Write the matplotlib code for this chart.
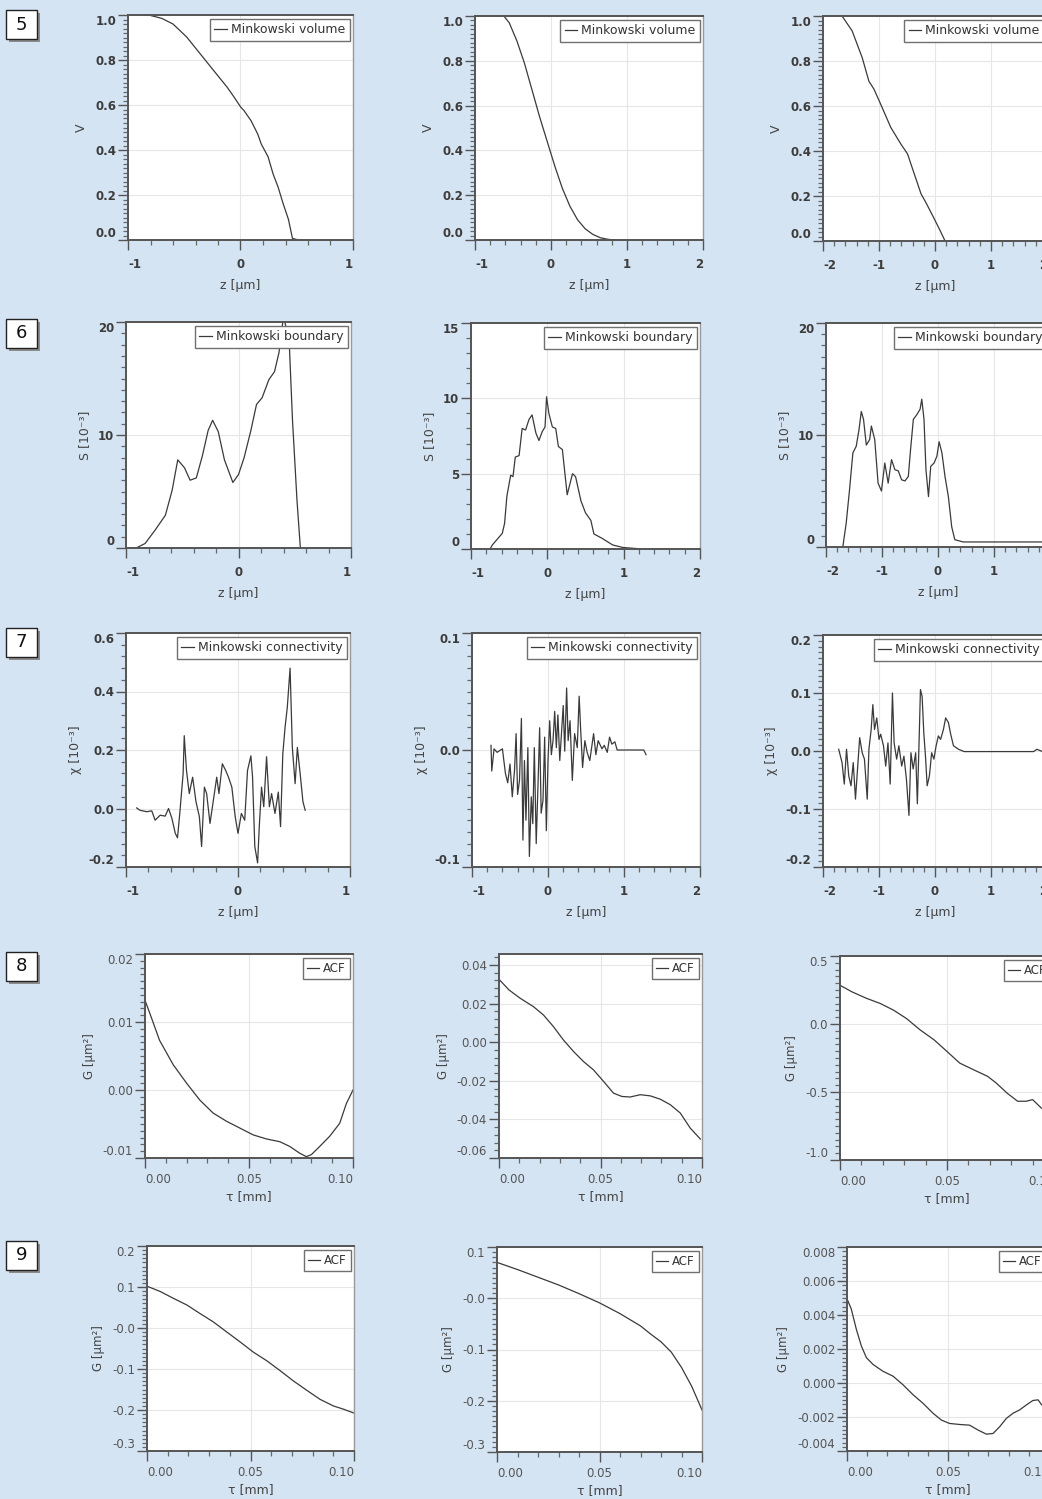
import matplotlib
matplotlib.use("Agg")
import matplotlib.pyplot as plt
from matplotlib.patches import Rectangle
from matplotlib.ticker import MultipleLocator

W, H = 1042, 1499
BG = "#d5e4f3"
INK = "#3a3a3a"

plt.rcParams["font.family"] = ["DejaVu Sans"]
plt.rcParams["axes.unicode_minus"] = False

# ---------------- row 5: Minkowski volume ----------------
vol_a_z = [-0.83, -0.80, -0.70, -0.60, -0.48, -0.33, -0.24, -0.12, -0.057, 0.003, 0.03,
           0.094, 0.154, 0.184, 0.245, 0.29, 0.335, 0.38, 0.426, 0.462, 0.517]
vol_a_v = [1.0, 0.998, 0.985, 0.96, 0.903, 0.81, 0.754, 0.68, 0.635, 0.59, 0.576,
           0.53, 0.47, 0.427, 0.37, 0.293, 0.234, 0.16, 0.092, 0.007, 0.0]
vol_b_z = [-0.62, -0.55, -0.45, -0.35, -0.25, -0.15, -0.05, 0.05, 0.15, 0.25, 0.35,
           0.45, 0.55, 0.65, 0.75, 0.85]
vol_b_v = [1.0, 0.97, 0.89, 0.79, 0.67, 0.55, 0.44, 0.33, 0.23, 0.15, 0.09,
           0.05, 0.025, 0.01, 0.003, 0.0]
vol_c_z = [-1.66, -1.48, -1.30, -1.18, -1.09, -0.97, -0.79, -0.61, -0.49, -0.37, -0.25,
           -0.15, 0.0, 0.09, 0.18, 2.0]
vol_c_v = [1.0, 0.934, 0.815, 0.71, 0.675, 0.608, 0.505, 0.431, 0.387, 0.298, 0.21,
           0.165, 0.092, 0.047, 0.0, 0.0]

# ---------------- row 6: Minkowski boundary [1e-3] ----------------
bnd_a_z = [-0.91, -0.83, -0.74, -0.65, -0.59, -0.54, -0.48, -0.43, -0.375, -0.32, -0.27,
           -0.23, -0.18, -0.125, -0.05, 0.0, 0.05, 0.11, 0.16, 0.21, 0.27, 0.32, 0.36,
           0.40, 0.45, 0.48, 0.52, 0.55]
bnd_a_s = [0.0, 0.4, 1.6, 2.9, 5.1, 7.8, 7.1, 6.0, 6.2, 8.2, 10.4,
           11.3, 10.3, 7.8, 5.8, 6.5, 8.0, 10.4, 12.7, 13.3, 14.9, 15.6, 17.3,
           20.5, 18.4, 11.3, 4.2, 0.0]
bnd_b_z = [-0.75, -0.72, -0.59, -0.56, -0.53, -0.48, -0.45, -0.42, -0.37, -0.33, -0.285,
           -0.24, -0.20, -0.15, -0.11, -0.066, -0.03, -0.01, 0.02, 0.066, 0.11, 0.145,
           0.197, 0.26, 0.33, 0.37, 0.44, 0.50, 0.57, 0.61, 0.72, 0.855, 0.99, 1.25]
bnd_b_s = [0.0, 0.27, 1.04, 1.7, 3.5, 4.9, 4.8, 6.1, 6.2, 8.0, 7.9,
           8.6, 8.9, 7.7, 7.2, 7.8, 8.1, 10.1, 9.0, 8.1, 8.0, 6.8,
           6.6, 3.6, 5.0, 4.8, 3.2, 2.4, 1.9, 1.0, 0.7, 0.27, 0.1, 0.0]
bnd_c_z = [-1.70, -1.64, -1.58, -1.52, -1.46, -1.41, -1.37, -1.33, -1.28, -1.22, -1.19,
           -1.13, -1.07, -1.01, -0.95, -0.89, -0.83, -0.77, -0.71, -0.65, -0.59, -0.53,
           -0.49, -0.44, -0.38, -0.32, -0.29, -0.25, -0.215, -0.17, -0.13, -0.07, -0.02,
           0.02, 0.07, 0.125, 0.185, 0.245, 0.30, 0.45, 2.0]
bnd_c_s = [0.0, 2.1, 5.1, 8.4, 9.0, 10.5, 12.1, 11.4, 9.1, 9.6, 10.8,
           9.6, 5.7, 5.0, 7.5, 5.7, 7.8, 6.9, 6.8, 6.0, 5.9, 6.3,
           8.7, 11.4, 11.8, 12.3, 13.2, 11.4, 6.9, 4.5, 7.2, 7.5, 8.1,
           9.4, 8.4, 6.3, 4.5, 1.8, 0.65, 0.45, 0.45]

# ---------------- row 7: Minkowski connectivity [1e-3] ----------------
con_a_z = [-0.905, -0.875, -0.815, -0.77, -0.74, -0.695, -0.65, -0.62, -0.59, -0.56, -0.54,
           -0.52, -0.49, -0.48, -0.46, -0.435, -0.405, -0.375, -0.345, -0.325, -0.30, -0.28,
           -0.25, -0.22, -0.19, -0.17, -0.14, -0.11, -0.085, -0.055, -0.025, 0.0, 0.03,
           0.06, 0.085, 0.115, 0.13, 0.15, 0.175, 0.19, 0.21, 0.23, 0.255, 0.28, 0.30,
           0.33, 0.36, 0.38, 0.40, 0.42, 0.44, 0.465, 0.485, 0.51, 0.53, 0.555, 0.58, 0.60]
con_a_x = [0.002, -0.006, -0.011, -0.008, -0.04, -0.023, -0.026, 0.0, -0.034, -0.085, -0.10,
           -0.017, 0.119, 0.249, 0.13, 0.051, 0.107, 0.023, -0.028, -0.13, 0.073, 0.051,
           -0.051, 0.028, 0.107, 0.051, 0.153, 0.13, 0.107, 0.073, -0.028, -0.085, -0.017,
           -0.04, 0.13, 0.18, 0.107, -0.13, -0.186, -0.062, 0.073, 0.006, 0.177, 0.006, 0.051,
           -0.017, 0.056, -0.062, 0.186, 0.277, 0.345, 0.48, 0.209, 0.085, 0.209, 0.119, 0.023, -0.006]
con_b_z = [-0.75, -0.74, -0.71, -0.67, -0.60, -0.56, -0.53, -0.50, -0.47, -0.44, -0.42,
           -0.40, -0.375, -0.35, -0.33, -0.31, -0.29, -0.265, -0.245, -0.22, -0.20, -0.18,
           -0.155, -0.13, -0.11, -0.09, -0.066, -0.044, -0.022, 0.0, 0.022, 0.044, 0.066,
           0.088, 0.11, 0.13, 0.155, 0.18, 0.20, 0.22, 0.245, 0.265, 0.29, 0.32, 0.35,
           0.385, 0.41, 0.43, 0.455, 0.485, 0.515, 0.55, 0.60, 0.63, 0.66, 0.71, 0.74,
           0.78, 0.81, 0.84, 0.88, 0.91, 1.26, 1.29]
con_b_x = [0.004, -0.018, 0.001, -0.002, 0.001, -0.020, -0.028, -0.012, -0.040, -0.017, 0.014,
           -0.038, -0.026, 0.027, -0.077, -0.009, -0.060, 0.002, -0.091, -0.040, -0.063, 0.002,
           -0.080, -0.026, 0.019, -0.054, -0.043, 0.011, -0.069, -0.009, 0.025, -0.004, 0.008,
           0.033, 0.002, 0.030, -0.009, 0.017, 0.038, -0.001, 0.053, 0.008, 0.025, -0.026, 0.014,
           0.002, 0.046, 0.017, -0.015, 0.008, -0.002, -0.009, 0.014, -0.004, 0.008, 0.001, 0.004,
           -0.002, 0.011, 0.005, 0.007, 0.0, 0.0, -0.004]
con_c_z = [-1.72, -1.66, -1.62, -1.58, -1.54, -1.50, -1.46, -1.42, -1.38, -1.345, -1.30,
           -1.26, -1.21, -1.18, -1.14, -1.11, -1.08, -1.04, -1.00, -0.97, -0.92, -0.88,
           -0.84, -0.80, -0.76, -0.73, -0.685, -0.645, -0.595, -0.555, -0.51, -0.465, -0.43,
           -0.39, -0.345, -0.315, -0.285, -0.26, -0.23, -0.20, -0.17, -0.14, -0.10, -0.06,
           -0.02, 0.02, 0.06, 0.10, 0.15, 0.19, 0.24, 0.28, 0.33, 0.42, 0.52, 0.80, 1.76,
           1.82, 1.92, 2.0]
con_c_x = [0.003, -0.02, -0.057, 0.003, -0.043, -0.06, -0.02, -0.083, -0.026, 0.023, -0.003,
           -0.014, -0.083, 0.003, 0.037, 0.08, 0.037, 0.057, 0.02, 0.029, 0.009, -0.026,
           0.014, -0.057, 0.1, 0.014, -0.014, 0.009, -0.026, -0.009, -0.049, -0.111, -0.003,
           -0.031, -0.003, -0.091, 0.014, 0.106, 0.094, 0.031, -0.009, -0.06, -0.043, -0.003,
           -0.014, 0.009, 0.026, 0.02, 0.037, 0.057, 0.049, 0.029, 0.009, 0.003, -0.001, -0.001, -0.001,
           0.003, -0.001, -0.001]

# ---------------- row 8: ACF ----------------
acf8_a_t = [0.0, 0.003, 0.007, 0.0136, 0.020, 0.0264, 0.0328, 0.0392, 0.0456, 0.052, 0.0584,
            0.0648, 0.0696, 0.0744, 0.0776, 0.080, 0.084, 0.0888, 0.0936, 0.0968, 0.100]
acf8_a_g = [0.0132, 0.0107, 0.0073, 0.0037, 0.001, -0.0015, -0.0034, -0.0046, -0.0056, -0.0066, -0.0072,
            -0.0076, -0.0083, -0.0093, -0.0098, -0.0095, -0.0083, -0.0068, -0.0049, -0.002, 0.0]
acf8_b_t = [0.0, 0.0049, 0.0104, 0.017, 0.0219, 0.0268, 0.0317, 0.0367, 0.0416, 0.0465, 0.0515,
            0.0564, 0.0605, 0.0646, 0.0696, 0.0745, 0.0794, 0.0844, 0.0893, 0.0942, 0.0992]
acf8_b_g = [0.0326, 0.0271, 0.0228, 0.0184, 0.0141, 0.0081, 0.0012, -0.0048, -0.0100, -0.0143, -0.0203,
            -0.0264, -0.0281, -0.0284, -0.0272, -0.0278, -0.0295, -0.0324, -0.0367, -0.0445, -0.0502]
acf8_c_t = [0.0, 0.0055, 0.0125, 0.0188, 0.025, 0.031, 0.0375, 0.044, 0.050, 0.056, 0.0625,
            0.069, 0.073, 0.078, 0.083, 0.087, 0.090, 0.094, 0.1]
acf8_c_g = [0.285, 0.237, 0.188, 0.151, 0.102, 0.041, -0.044, -0.117, -0.202, -0.288, -0.337,
            -0.385, -0.434, -0.507, -0.568, -0.568, -0.556, -0.617, -0.66]

# ---------------- row 9: ACF ----------------
acf9_a_t = [0.0, 0.0064, 0.0129, 0.0193, 0.0257, 0.032, 0.0386, 0.045, 0.0514, 0.0579, 0.0643,
            0.0707, 0.0772, 0.0836, 0.090, 0.0949, 0.0997]
acf9_a_g = [0.102, 0.089, 0.072, 0.056, 0.035, 0.015, -0.010, -0.034, -0.059, -0.080, -0.104,
            -0.129, -0.152, -0.174, -0.190, -0.198, -0.207]
acf9_b_t = [0.0, 0.010, 0.020, 0.030, 0.040, 0.050, 0.060, 0.070, 0.075, 0.080, 0.085,
            0.090, 0.095, 0.100]
acf9_b_g = [0.070, 0.056, 0.041, 0.026, 0.009, -0.009, -0.030, -0.054, -0.070, -0.085, -0.105,
            -0.135, -0.172, -0.218]
acf9_c_t = [0.0, 0.0021, 0.0046, 0.0071, 0.0096, 0.0129, 0.0178, 0.0228, 0.0277, 0.0327, 0.0376,
            0.0426, 0.0467, 0.0508, 0.0558, 0.0607, 0.0649, 0.069, 0.0723, 0.0756, 0.0789,
            0.0822, 0.0855, 0.0888, 0.092, 0.0946, 0.0964, 0.1]
acf9_c_g = [0.00495, 0.00436, 0.00317, 0.00218, 0.00149, 0.00109, 0.00069, 0.0004, -0.0001, -0.00069, -0.00119,
            -0.00178, -0.00218, -0.00238, -0.00244, -0.00248, -0.00277, -0.00301, -0.00297, -0.00257, -0.00208,
            -0.00178, -0.00158, -0.00129, -0.00103, -0.00099, -0.00129, -0.0014]

# tick values (labels are formatted from these); -0.0 is printed as "-0.0" like the original
vol_yticks = [0.0, 0.2, 0.4, 0.6, 0.8, 1.0]
bnd_a_yticks = [0, 10, 20]
bnd_b_yticks = [0, 5, 10, 15]
bnd_c_yticks = [0, 10, 20]
con_a_yticks = [-0.2, 0.0, 0.2, 0.4, 0.6]
con_b_yticks = [-0.1, 0.0, 0.1]
con_c_yticks = [-0.2, -0.1, 0.0, 0.1, 0.2]
acf8_a_yticks = [-0.01, 0.0, 0.01, 0.02]
acf8_b_yticks = [-0.06, -0.04, -0.02, 0.0, 0.02, 0.04]
acf8_c_yticks = [-1.0, -0.5, 0.0, 0.5]
acf9_a_yticks = [-0.3, -0.2, -0.1, -0.0, 0.1, 0.2]
acf9_b_yticks = [-0.3, -0.2, -0.1, -0.0, 0.1]
acf9_c_yticks = [-0.004, -0.002, 0.0, 0.002, 0.004, 0.006, 0.008]
z_a_xticks = [-1, 0, 1]
z_b_xticks = [-1, 0, 1, 2]
z_c_xticks = [-2, -1, 0, 1, 2]
tau_xticks = [0.0, 0.05, 0.10]

row_numbers = ["5", "6", "7", "8", "9"]


def to_fig(x0, y0, x1, y1):
    return [x0 / W, 1 - y1 / H, (x1 - x0) / W, (y1 - y0) / H]


def near(a, b):
    return abs(a - b) < 1e-9


def panel(fig, box, xs, ys, label, xlim, xticks, xfmt, xminor,
          ylim, yticks, yfmt, yminor, xlabel, ylabel, zrow):
    ax = fig.add_axes(to_fig(*box))
    ax.set_facecolor("white")
    ax.plot(xs, ys, color=INK, lw=0.9, label=label)
    ax.set_xlim(xlim)
    ax.set_ylim(ylim)

    lab_col = "#3c3c3c" if zrow else "#555555"
    weight = "bold" if zrow else "normal"

    ax.set_xticks(xticks, [xfmt.format(v) for v in xticks])
    ax.set_yticks(yticks, [yfmt.format(v) for v in yticks])
    ax.xaxis.set_minor_locator(MultipleLocator(xminor))
    ax.yaxis.set_minor_locator(MultipleLocator(yminor))
    ax.tick_params(which="major", direction="out", length=7, width=1.0, color="#555555",
                   labelsize=8.5, labelcolor=lab_col)
    ax.tick_params(which="minor", direction="out", length=3.5, width=0.9, color="#666666")
    ax.tick_params(axis="y", pad=1.5)
    ax.tick_params(axis="x", pad=6 if zrow else 3.5)

    # edge labels are pulled inside the axis extent, as in the original software
    for t, v in zip(ax.get_xticklabels(), xticks):
        t.set_fontweight(weight)
        if near(v, xlim[0]):
            t.set_ha("left")
        elif near(v, xlim[1]):
            t.set_ha("right")
    for t, v in zip(ax.get_yticklabels(), yticks):
        t.set_fontweight(weight)
        if near(v, ylim[0]):
            t.set_va("bottom")
        elif near(v, ylim[1]):
            t.set_va("top")

    ax.grid(True, which="major", color="#e6e6e6", lw=0.8)
    ax.set_axisbelow(True)
    for side in ["left", "bottom", "top"]:
        ax.spines[side].set_color("#555555")
        ax.spines[side].set_linewidth(1.4)
    ax.spines["right"].set_color("#9a9a9a")
    ax.spines["right"].set_linewidth(1.0)

    ax.set_xlabel(xlabel, fontsize=9, color="#444444", labelpad=6 if zrow else 3)
    ax.set_ylabel(ylabel, fontsize=9 if zrow else 8.5, color="#444444", labelpad=5)

    wpx = box[2] - box[0]
    hpx = box[3] - box[1]
    leg = ax.legend(loc="upper right", bbox_to_anchor=(1 - 3 / wpx, 1 - 4 / hpx),
                    borderaxespad=0, fontsize=9 if zrow else 8.5, handlelength=1.0,
                    handletextpad=0.35, borderpad=0.35, fancybox=False, framealpha=1,
                    edgecolor="#707070", labelcolor="#333333")
    leg.get_frame().set_linewidth(1.0)
    return ax


fig = plt.figure(figsize=(W / 100, H / 100), dpi=100, facecolor=BG)

zl = "z [µm]"
tl = "τ [mm]"

# row 5
panel(fig, (128, 15, 353, 240), vol_a_z, vol_a_v, "Minkowski volume", (-1, 1), z_a_xticks, "{:g}", 0.2,
      (0, 1), vol_yticks, "{:.1f}", 0.02, zl, "V", True)
panel(fig, (475, 16, 703, 240), vol_b_z, vol_b_v, "Minkowski volume", (-1, 2), z_b_xticks, "{:g}", 0.2,
      (0, 1), vol_yticks, "{:.1f}", 0.02, zl, "V", True)
panel(fig, (823, 16, 1047, 241), vol_c_z, vol_c_v, "Minkowski volume", (-2, 2), z_c_xticks, "{:g}", 0.2,
      (0, 1), vol_yticks, "{:.1f}", 0.02, zl, "V", True)

# row 6
panel(fig, (126, 322, 351, 548), bnd_a_z, bnd_a_s, "Minkowski boundary", (-1, 1), z_a_xticks, "{:g}", 0.2,
      (0, 20), bnd_a_yticks, "{:.0f}", 1, zl, "S [10⁻³]", True)
panel(fig, (471, 323, 700, 549), bnd_b_z, bnd_b_s, "Minkowski boundary", (-1, 2), z_b_xticks, "{:g}", 0.2,
      (0, 15), bnd_b_yticks, "{:.0f}", 1, zl, "S [10⁻³]", True)
panel(fig, (826, 323, 1050, 547), bnd_c_z, bnd_c_s, "Minkowski boundary", (-2, 2), z_c_xticks, "{:g}", 0.2,
      (0, 20), bnd_c_yticks, "{:.0f}", 1, zl, "S [10⁻³]", True)

# row 7
panel(fig, (126, 633, 350, 867), con_a_z, con_a_x, "Minkowski connectivity", (-1, 1), z_a_xticks, "{:g}", 0.2,
      (-0.2, 0.6), con_a_yticks, "{:.1f}", 0.04, zl, "χ [10⁻³]", True)
panel(fig, (472, 633, 700, 867), con_b_z, con_b_x, "Minkowski connectivity", (-1, 2), z_b_xticks, "{:g}", 0.2,
      (-0.1, 0.1), con_b_yticks, "{:.1f}", 0.01, zl, "χ [10⁻³]", True)
panel(fig, (823, 635, 1047, 867), con_c_z, con_c_x, "Minkowski connectivity", (-2, 2), z_c_xticks, "{:g}", 0.2,
      (-0.2, 0.2), con_c_yticks, "{:.1f}", 0.01, zl, "χ [10⁻³]", True)

# row 8
panel(fig, (145, 954, 353, 1158), acf8_a_t, acf8_a_g, "ACF", (0, 0.1), tau_xticks, "{:.2f}", 0.01,
      (-0.01, 0.02), acf8_a_yticks, "{:.2f}", 0.001, tl, "G [µm²]", False)
panel(fig, (499, 954, 702, 1158), acf8_b_t, acf8_b_g, "ACF", (0, 0.1), tau_xticks, "{:.2f}", 0.01,
      (-0.06, 0.0457), acf8_b_yticks, "{:.2f}", 0.004, tl, "G [µm²]", False)
panel(fig, (840, 956, 1054, 1160), acf8_c_t, acf8_c_g, "ACF", (0, 0.1), tau_xticks, "{:.2f}", 0.01,
      (-1.0, 0.5), acf8_c_yticks, "{:.1f}", 0.05, tl, "G [µm²]", False)

# row 9
panel(fig, (147, 1246, 354, 1451), acf9_a_t, acf9_a_g, "ACF", (0, 0.1), tau_xticks, "{:.2f}", 0.01,
      (-0.3, 0.2), acf9_a_yticks, "{:.1f}", 0.01, tl, "G [µm²]", False)
panel(fig, (497, 1247, 702, 1452), acf9_b_t, acf9_b_g, "ACF", (0, 0.1), tau_xticks, "{:.2f}", 0.01,
      (-0.3, 0.1), acf9_b_yticks, "{:.1f}", 0.01, tl, "G [µm²]", False)
panel(fig, (847, 1247, 1049, 1451), acf9_c_t, acf9_c_g, "ACF", (0, 0.1), tau_xticks, "{:.2f}", 0.01,
      (-0.004, 0.008), acf9_c_yticks, "{:.3f}", 0.00025, tl, "G [µm²]", False)

# numbered row boxes with a drop shadow
box_tops = [10, 319, 628, 952, 1241]
for num, top in zip(row_numbers, box_tops):
    x0, x1, y0, y1 = 6, 37, top, top + 29
    fig.add_artist(Rectangle((x0 / W + 3 / W, 1 - (y1 + 3) / H), (x1 - x0) / W, (y1 - y0) / H,
                             transform=fig.transFigure, facecolor="#8c8c8c", edgecolor="none"))
    fig.add_artist(Rectangle((x0 / W, 1 - y1 / H), (x1 - x0) / W, (y1 - y0) / H,
                             transform=fig.transFigure, facecolor="white", edgecolor="#222222", lw=1.0))
    fig.text((x0 + x1) / 2 / W, 1 - (y0 + y1) / 2 / H, num, ha="center", va="center",
             fontsize=13, color="#111111")

fig.savefig("out.png", dpi=100, facecolor=BG)
